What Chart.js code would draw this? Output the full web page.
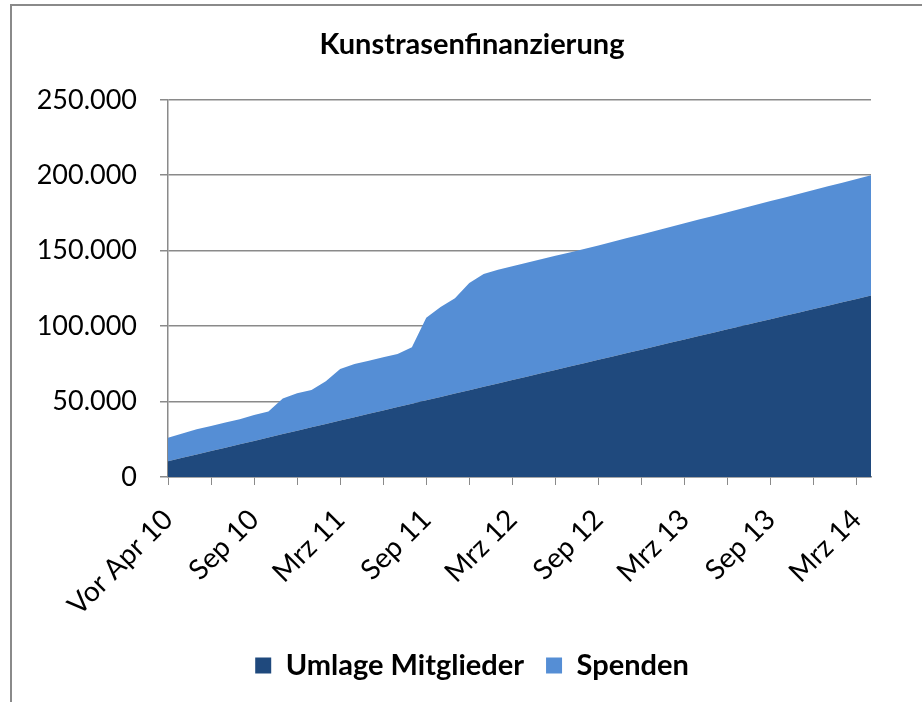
<!DOCTYPE html>
<html>
<head>
<meta charset="utf-8">
<script src="https://cdn.jsdelivr.net/npm/chart.js@4/dist/chart.umd.min.js"></script>
<style>
  html, body { margin: 0; padding: 0; background: #fff; overflow: hidden; }
  #wrap { position: relative; width: 922px; height: 702px; overflow: hidden; }
  #frame { position: absolute; left: 10px; top: 4px; width: 940px; height: 720px; border: 2px solid #8a8a8a; box-sizing: border-box; }
  #chart { position: absolute; left: 0; top: 0; }
</style>
</head>
<body>
<div id="wrap">
  <div id="frame"></div>
  <canvas id="chart" width="930" height="702"></canvas>
</div>
<script>
const categories = [
  "Vor Apr 10", "Apr 10", "Mai 10", "Jun 10", "Jul 10", "Aug 10", "Sep 10", "Okt 10", "Nov 10", "Dez 10",
  "Jan 11", "Feb 11", "Mrz 11", "Apr 11", "Mai 11", "Jun 11", "Jul 11", "Aug 11", "Sep 11", "Okt 11", "Nov 11", "Dez 11",
  "Jan 12", "Feb 12", "Mrz 12", "Apr 12", "Mai 12", "Jun 12", "Jul 12", "Aug 12", "Sep 12", "Okt 12", "Nov 12", "Dez 12",
  "Jan 13", "Feb 13", "Mrz 13", "Apr 13", "Mai 13", "Jun 13", "Jul 13", "Aug 13", "Sep 13", "Okt 13", "Nov 13", "Dez 13",
  "Jan 14", "Feb 14", "Mrz 14", "Apr 14"
];

// labels that are printed under the axis (every 6th month)
const shownLabels = ["Vor Apr 10", "Sep 10", "Mrz 11", "Sep 11", "Mrz 12", "Sep 12", "Mrz 13", "Sep 13", "Mrz 14"];

const umlageMitglieder = [
  10500, 12740, 14980, 17220, 19460, 21700, 23940, 26180, 28420, 30660,
  32900, 35140, 37380, 39620, 41860, 44100, 46340, 48580, 50820, 53060,
  55300, 57540, 59780, 62020, 64260, 66500, 68740, 70980, 73220, 75460,
  77700, 79940, 82180, 84420, 86660, 88900, 91140, 93380, 95620, 97860,
  100100, 102340, 104580, 106820, 109060, 111300, 113540, 115780, 118020, 120260
];

const spenden = [
  15500, 16100, 16600, 16600, 16600, 16600, 17200, 17200, 23600, 24800,
  24800, 28400, 34200, 35200, 35200, 35200, 35200, 37400, 54700, 59600,
  63200, 71000, 74800, 75300, 75400, 75500, 75600, 75600, 75600, 75600,
  75750, 75960, 76170, 76380, 76590, 76800, 77010, 77220, 77430, 77640,
  77850, 78060, 78270, 78480, 78690, 78900, 79110, 79320, 79530, 79740
];

const yTicks = [0, 50000, 100000, 150000, 200000, 250000];

const axisGray = "#8a8a8a";
const fontFamily = "Lato, 'Open Sans', sans-serif";

// 250000 -> "250.000"
const fmt = (v) => String(v).replace(/\B(?=(\d{3})+(?!\d))/g, ".");

const ctx = document.getElementById("chart").getContext("2d");
new Chart(ctx, {
  type: "line",
  data: {
    labels: categories,
    datasets: [
      {
        label: "Umlage Mitglieder",
        data: umlageMitglieder,
        backgroundColor: "#1f497d",
        borderColor: "#1f497d",
        fill: "origin",
      },
      {
        label: "Spenden",
        data: spenden,
        backgroundColor: "#558ed5",
        borderColor: "#558ed5",
        fill: "-1",
      },
    ],
  },
  options: {
    responsive: false,
    animation: false,
    layout: { padding: { left: 20, right: 6, top: 0, bottom: 12 } },
    elements: {
      point: { radius: 0 },
      line: { borderWidth: 0, tension: 0 },
    },
    plugins: {
      title: {
        display: true,
        text: "Kunstrasenfinanzierung",
        color: "#000",
        font: { family: fontFamily, size: 29, weight: "bold", lineHeight: 1.2 },
        padding: { top: 27, bottom: 38 },
      },
      legend: {
        position: "bottom",
        labels: {
          color: "#000",
          font: { family: fontFamily, size: 29, weight: "bold" },
          boxWidth: 16,
          boxHeight: 16,
          padding: 22,
        },
      },
      tooltip: { enabled: false },
    },
    scales: {
      x: {
        grid: {
          drawOnChartArea: false,
          tickLength: 8,
          color: (c) => (c.index % 3 === 0 ? axisGray : "rgba(0,0,0,0)"),
        },
        border: { color: axisGray, width: 1.5 },
        ticks: {
          autoSkip: false,
          maxRotation: 45,
          minRotation: 45,
          padding: 18,
          color: "#000",
          font: { family: fontFamily, size: 28 },
          callback: (v, i) => (shownLabels.includes(categories[i]) ? categories[i] : ""),
        },
        afterFit: (s) => { s.height = 152; },
      },
      y: {
        stacked: true,
        min: yTicks[0],
        max: yTicks[yTicks.length - 1],
        ticks: {
          stepSize: yTicks[1] - yTicks[0],
          padding: 23,
          color: "#000",
          font: { family: fontFamily, size: 27 },
          callback: (v) => fmt(v),
        },
        grid: { color: axisGray, lineWidth: 1.5, tickLength: 8 },
        border: { color: axisGray, width: 1.5 },
        afterFit: (s) => { s.width = 148; },
      },
      // empty right-hand box, only there so title and legend sit where they do in the original
      yRight: {
        position: "right",
        display: true,
        grid: { display: false, drawTicks: false },
        border: { display: false },
        ticks: { display: false },
        afterFit: (s) => { s.width = 53; },
      },
    },
  },
});
</script>
</body>
</html>
